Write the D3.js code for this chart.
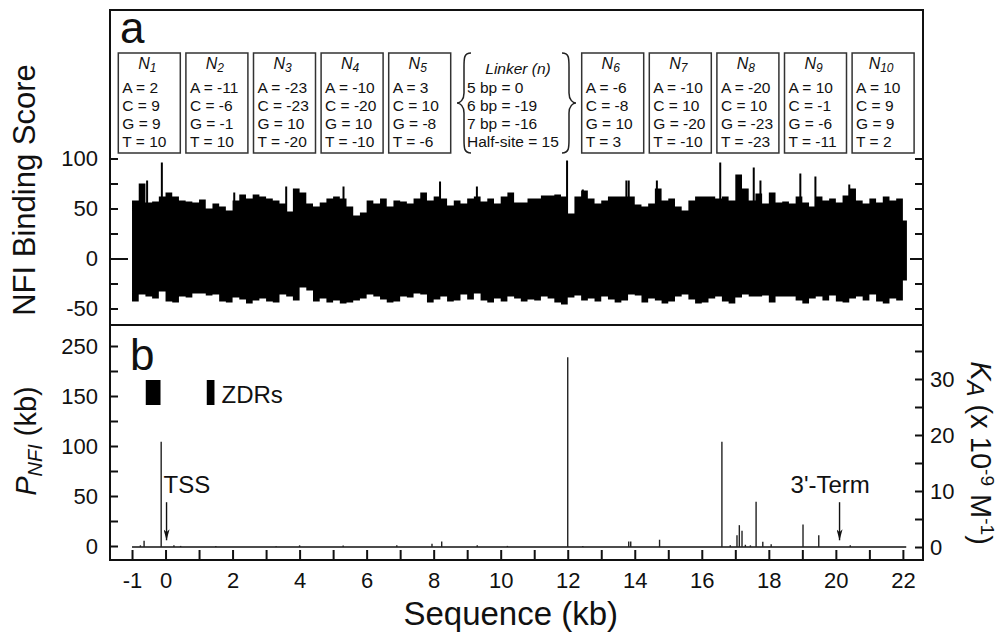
<!DOCTYPE html>
<html>
<head>
<meta charset="utf-8">
<script src="https://cdn.jsdelivr.net/npm/d3@7"></script>
<style>
body { margin: 0; background: #fff; }
text { font-family: "Liberation Sans", Arial, Helvetica, sans-serif; fill: #111; }
</style>
</head>
<body>
<div id="chart"></div>
<script>
// ---- panel a: NFI binding score, envelope per 0.2 kb bin starting at -1 kb
const scoreStart = -1, scoreStep = 0.2, scoreEnd = 22.12;
const upperScore = [
  58, 75, 56, 57, 62, 66, 62, 58, 57, 56,
  59, 50, 55, 52, 48, 58, 64, 60, 64, 62,
  60, 58, 55, 47, 70, 66, 55, 52, 56, 60,
  62, 60, 52, 43, 46, 58, 55, 60, 52, 58,
  57, 55, 60, 66, 58, 62, 60, 53, 58, 55,
  60, 62, 57, 60, 55, 62, 66, 56, 56, 60,
  60, 63, 63, 64, 62, 45, 62, 68, 60, 55,
  58, 62, 62, 62, 62, 54, 52, 55, 70, 58,
  60, 52, 48, 58, 62, 62, 62, 60, 62, 58,
  84, 70, 58, 65, 55, 66, 56, 57, 55, 62,
  56, 52, 62, 58, 60, 56, 63, 70, 58, 55,
  60, 56, 62, 58, 60, 38
];
const lowerScore = [
  -43, -36, -38, -40, -33, -43, -44, -38, -39, -35,
  -35, -37, -36, -43, -44, -39, -41, -45, -42, -40,
  -43, -44, -36, -38, -42, -29, -32, -43, -40, -44,
  -42, -45, -44, -42, -40, -36, -38, -41, -44, -43,
  -38, -39, -35, -36, -44, -41, -38, -43, -42, -36,
  -41, -35, -42, -44, -40, -43, -38, -40, -43, -41,
  -42, -38, -40, -44, -46, -39, -37, -42, -40, -43,
  -38, -41, -44, -42, -36, -37, -44, -40, -42, -45,
  -43, -38, -36, -41, -45, -44, -40, -38, -43, -45,
  -39, -36, -38, -38, -37, -44, -38, -38, -38, -42,
  -45, -40, -38, -42, -37, -43, -44, -40, -38, -42,
  -36, -43, -45, -40, -42, -22
];
// single tall scores [kb, score]
const spikeKb    = [-0.55, -0.11, 2.05, 3.6, 5.31, 8.19, 9.29, 11.98, 12.45, 13.75, 13.82, 14.66, 16.55, 17.55, 17.75, 18.94, 19.39, 20.4];
const spikeScore = [78, 96, 66, 72, 72, 77, 72, 98, 69, 78, 78, 78, 96, 91, 78, 85, 82, 74];

// nucleotide weights per position
const boxIndex = [1, 2, 3, 4, 5, 6, 7, 8, 9, 10];
const boxA = [2, -11, -23, -10, 3, -6, -10, -20, 10, 10];
const boxC = [9, -6, -23, -20, 10, -8, 10, 10, -1, 9];
const boxG = [9, -1, 10, 10, -8, 10, -20, -23, -6, 9];
const boxT = [10, 10, -20, -10, -6, 3, -10, -23, -11, 2];
const linkerKeys = ["5 bp", "6 bp", "7 bp", "Half-site"];
const linkerVals = [0, -19, -16, 15];

// ---- panel b: K_A peaks [kb, K_A]
const peakKb = [-0.75, -0.64, -0.13, 0.25, 0.45, 1.5, 3.3, 4.0, 5.3, 6.9, 7.95, 8.24, 9.3, 10.2,
                12.0, 12.45, 13.82, 13.88, 14.74, 16.6, 16.85, 17.05, 17.12, 17.2, 17.3, 17.45,
                17.62, 17.82, 18.07, 19.02, 19.49, 20.43];
const peakKA = [0.3, 1.1, 18.8, 0.3, 0.2, 0.2, 0.15, 0.3, 0.25, 0.3, 0.6, 1.0, 0.3, 0.2,
                33.9, 0.2, 1.0, 1.0, 1.3, 18.8, 0.3, 2.1, 3.9, 2.9, 0.4, 0.3,
                8.1, 0.95, 0.5, 4.0, 2.1, 0.3];
const zdrStart = [-0.59, 1.23];
const zdrEnd = [-0.15, 1.46];
const zdrLow = 141, zdrHigh = 166;   // in P_NFI units
const arrowKb = [0.03, 20.11];
const arrowText = ["TSS", "3'-Term"];

// tick labels
const xTickLabels = [-1, 0, 2, 4, 6, 8, 10, 12, 14, 16, 18, 20, 22];
const topTickLabels = [-50, 0, 50, 100];
const pTickVals = [0, 50, 100, 150, 200];
const pTickLabels = ["0", "50", "100", "150", "250"];
const kTickLabels = [0, 10, 20, 30];

// ---- layout
const W = 999, H = 632;
const frame = {left: 110, right: 923, top: 10, mid: 325, bottom: 560};
const font = "Liberation Sans, Arial, Helvetica, sans-serif";

const svg = d3.select("#chart")
    .append("svg")
    .attr("width", W)
    .attr("height", H);

const x = d3.scaleLinear().domain([-1.657, 22.6]).range([frame.left, frame.right]);
const yTop = d3.scaleLinear().domain([-66.5, 248.5]).range([frame.mid, frame.top]);
const yP = d3.scaleLinear().domain([-14, 221]).range([frame.bottom, frame.mid]);
const yK = d3.scaleLinear().domain([-2.32, 39.64]).range([frame.bottom, frame.mid]);

// ---- panel a data
const bins = upperScore.map((u, i) => ({kb: scoreStart + i * scoreStep, hi: u, lo: lowerScore[i]}));
bins.push({kb: scoreEnd, hi: upperScore[upperScore.length - 1], lo: lowerScore[lowerScore.length - 1]});

svg.append("path")
    .datum(bins)
    .attr("fill", "#000")
    .attr("d", d3.area()
        .curve(d3.curveStepAfter)
        .x(d => x(d.kb))
        .y0(d => yTop(d.lo))
        .y1(d => yTop(d.hi)));

svg.append("g")
    .selectAll("line")
    .data(spikeKb)
    .join("line")
        .attr("x1", d => x(d)).attr("x2", d => x(d))
        .attr("y1", yTop(0))
        .attr("y2", (d, i) => yTop(spikeScore[i]))
        .attr("stroke", "#000")
        .attr("stroke-width", 2);

// ---- panel b data
svg.append("line")
    .attr("x1", x(-1)).attr("x2", x(22.1))
    .attr("y1", yK(0)).attr("y2", yK(0))
    .attr("stroke", "#111").attr("stroke-width", 1.6);

svg.append("g")
    .selectAll("line")
    .data(peakKb)
    .join("line")
        .attr("x1", d => x(d)).attr("x2", d => x(d))
        .attr("y1", yK(0))
        .attr("y2", (d, i) => yK(peakKA[i]))
        .attr("stroke", "#222")
        .attr("stroke-width", 1.4);

svg.append("g")
    .selectAll("rect")
    .data(zdrStart)
    .join("rect")
        .attr("x", d => x(d))
        .attr("width", (d, i) => x(zdrEnd[i]) - x(d))
        .attr("y", yP(zdrHigh))
        .attr("height", yP(zdrLow) - yP(zdrHigh))
        .attr("fill", "#000");

svg.append("text")
    .attr("x", x(zdrEnd[1]) + 7)
    .attr("y", yP(zdrLow) - 2)
    .attr("font-size", 24)
    .text("ZDRs");

// arrows (head drawn along the line direction)
svg.append("defs").append("marker")
    .attr("id", "head")
    .attr("viewBox", "0 0 11 6")
    .attr("refX", 11).attr("refY", 3)
    .attr("markerWidth", 11).attr("markerHeight", 6)
    .attr("markerUnits", "userSpaceOnUse")
    .attr("orient", "auto")
  .append("path")
    .attr("d", "M0,0 L11,3 L0,6 L3,3 Z")
    .attr("fill", "#111");

svg.append("g")
    .selectAll("line")
    .data(arrowKb)
    .join("line")
        .attr("x1", d => x(d)).attr("x2", d => x(d))
        .attr("y1", yK(8)).attr("y2", yK(1.2))
        .attr("stroke", "#111").attr("stroke-width", 1.4)
        .attr("marker-end", "url(#head)");

svg.append("text").attr("x", x(arrowKb[0]) - 3).attr("y", 493)
    .attr("font-size", 24).text(arrowText[0]);
svg.append("text").attr("x", x(arrowKb[1]) - 49).attr("y", 493)
    .attr("font-size", 24).text(arrowText[1]);

// ---- axes
function styleAxis(g, size) {
    g.select(".domain").remove();
    g.selectAll("line").attr("stroke", "#111").attr("stroke-width", 2);
    g.selectAll("text").attr("font-size", size).attr("font-family", font).attr("fill", "#111");
}

const xAxis = svg.append("g")
    .attr("transform", `translate(0, ${frame.bottom})`)
    .call(d3.axisBottom(x)
        .tickValues(d3.range(-1, 23))
        .tickSize(-10)
        .tickPadding(12)
        .tickFormat(d => xTickLabels.includes(d) ? d : ""))
    .call(g => styleAxis(g, 22));

const topLeft = svg.append("g")
    .attr("transform", `translate(${frame.left}, 0)`)
    .call(d3.axisLeft(yTop)
        .tickValues(d3.range(-50, 101, 25))
        .tickSize(-8)
        .tickPadding(12)
        .tickFormat(d => topTickLabels.includes(d) ? d : ""))
    .call(g => styleAxis(g, 22));
topLeft.selectAll(".tick").filter(d => d === 0).select("line").attr("x2", 18);

const topRight = svg.append("g")
    .attr("transform", `translate(${frame.right}, 0)`)
    .call(d3.axisRight(yTop)
        .tickValues(d3.range(-50, 101, 25))
        .tickSize(-8)
        .tickFormat(""))
    .call(g => styleAxis(g, 22));
topRight.selectAll(".tick").filter(d => d === 0).select("line").attr("x2", -13);

svg.append("g")
    .attr("transform", `translate(${frame.left}, 0)`)
    .call(d3.axisLeft(yP)
        .tickValues(d3.range(0, 201, 25))
        .tickSize(-8)
        .tickPadding(12)
        .tickFormat(d => pTickVals.includes(d) ? pTickLabels[pTickVals.indexOf(d)] : ""))
    .call(g => styleAxis(g, 22));

svg.append("g")
    .attr("transform", `translate(${frame.right}, 0)`)
    .call(d3.axisRight(yK)
        .tickValues(d3.range(0, 36, 5))
        .tickSize(-8)
        .tickPadding(7)
        .tickFormat(d => kTickLabels.includes(d) ? d : ""))
    .call(g => styleAxis(g, 22));

// frame + divider
svg.append("rect")
    .attr("x", frame.left).attr("y", frame.top)
    .attr("width", frame.right - frame.left)
    .attr("height", frame.bottom - frame.top)
    .attr("fill", "none").attr("stroke", "#111").attr("stroke-width", 2);
svg.append("line")
    .attr("x1", frame.left).attr("x2", frame.right)
    .attr("y1", frame.mid).attr("y2", frame.mid)
    .attr("stroke", "#111").attr("stroke-width", 2);

// panel letters
svg.append("text").attr("x", 120).attr("y", 43).attr("font-size", 44).text("a");
svg.append("text").attr("x", 130).attr("y", 370).attr("font-size", 44).text("b");

// axis titles
svg.append("text")
    .attr("transform", "translate(35, 190) rotate(-90)")
    .attr("text-anchor", "middle")
    .attr("font-size", 31)
    .text("NFI Binding Score");

svg.append("text")
    .attr("x", x(10.3))
    .attr("y", 625)
    .attr("text-anchor", "middle")
    .attr("font-size", 33)
    .text("Sequence (kb)");

const pLab = svg.append("text")
    .attr("transform", "translate(36, 441) rotate(-90)")
    .attr("text-anchor", "middle")
    .attr("font-size", 29);
pLab.append("tspan").attr("font-style", "italic").text("P");
pLab.append("tspan").attr("font-style", "italic").attr("font-size", 20).attr("dy", 6).text("NFI");
pLab.append("tspan").attr("dy", -6).text(" (kb)");

const kLab = svg.append("text")
    .attr("transform", "translate(971, 453) rotate(90)")
    .attr("text-anchor", "middle")
    .attr("font-size", 29);
kLab.append("tspan").attr("font-style", "italic").text("K");
kLab.append("tspan").attr("font-style", "italic").attr("font-size", 24).attr("dy", 4).text("A");
kLab.append("tspan").attr("dy", -4).text(" (x 10");
kLab.append("tspan").attr("font-size", 19).attr("dy", -10).text("-9");
kLab.append("tspan").attr("dy", 10).text(" M");
kLab.append("tspan").attr("font-size", 19).attr("dy", -10).text("-1");
kLab.append("tspan").attr("dy", 10).text(")");

// ---- nucleotide boxes
const boxW = 62, boxPitch = 67.6, boxTop = 53, boxBottom = 153;
const boxX = i => (i < 5 ? 118.3 + i * boxPitch : 581.7 + (i - 5) * boxPitch);
const lineY = [93.3, 111, 128.7, 146.5];

const boxes = svg.append("g")
    .selectAll("g")
    .data(boxIndex)
    .join("g")
        .attr("transform", (d, i) => `translate(${boxX(i)}, 0)`);

boxes.append("rect")
    .attr("y", boxTop)
    .attr("width", boxW)
    .attr("height", boxBottom - boxTop)
    .attr("fill", "#fff")
    .attr("stroke", "#333")
    .attr("stroke-width", 1.5);

const titles = boxes.append("text")
    .attr("x", boxW / 2 - 2)
    .attr("y", 68.5)
    .attr("text-anchor", "middle")
    .attr("font-size", 16)
    .attr("font-style", "italic");
titles.append("tspan").text("N");
titles.append("tspan").attr("font-size", 12).attr("dy", 3).text(d => d);

boxes.each(function(d, i) {
    const g = d3.select(this);
    const rows = [["A", boxA[i]], ["C", boxC[i]], ["G", boxG[i]], ["T", boxT[i]]];
    g.selectAll("text.row")
        .data(rows)
        .join("text")
            .attr("class", "row")
            .attr("x", 4)
            .attr("y", (r, j) => lineY[j])
            .attr("font-size", 15.5)
            .text(r => `${r[0]} = ${r[1]}`);
});

// linker
svg.append("text")
    .attr("x", 518).attr("y", 73.5)
    .attr("text-anchor", "middle")
    .attr("font-size", 15.5)
    .attr("font-style", "italic")
    .text("Linker (n)");
svg.append("g")
    .selectAll("text")
    .data(linkerKeys)
    .join("text")
        .attr("x", 467)
        .attr("y", (d, i) => lineY[i])
        .attr("font-size", 15.5)
        .text((d, i) => `${d} = ${linkerVals[i]}`);

const brace = (x0, dir) => {
    // x0: tip x of the ends, dir: -1 for "{", +1 for "}"
    const m = x0 + dir * 7, c = x0 + dir * 14, y0 = boxTop, y1 = boxBottom, ym = (y0 + y1) / 2;
    return `M${x0},${y0} C${m},${y0} ${m},${y0 + 5} ${m},${y0 + 14} L${m},${ym - 10} ` +
           `C${m},${ym - 3} ${c - dir * 3},${ym} ${c},${ym} C${c - dir * 3},${ym} ${m},${ym + 3} ${m},${ym + 10} ` +
           `L${m},${y1 - 14} C${m},${y1 - 5} ${m},${y1} ${x0},${y1}`;
};
svg.append("path").attr("d", brace(471, -1)).attr("fill", "none").attr("stroke", "#222").attr("stroke-width", 1.5);
svg.append("path").attr("d", brace(562, 1)).attr("fill", "none").attr("stroke", "#222").attr("stroke-width", 1.5);
</script>
</body>
</html>
